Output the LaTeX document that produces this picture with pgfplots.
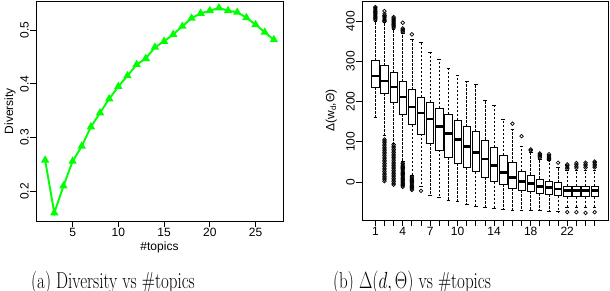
\documentclass[border=0pt]{standalone}
\usepackage{pgfplots}
\pgfplotsset{compat=1.18}
\usepgfplotslibrary{statistics}
\usepackage{fontspec}
\newfontfamily\arial{Liberation Sans}
\definecolor{rgreen}{RGB}{0,255,0}
\pgfplotsset{
  rstyle/.style={
    scale only axis,
    axis line style={line width=0.9pt},
    tick align=outside,
    major tick length=6pt,
    every tick/.style={black, line width=0.9pt},
    tick pos=left,
    tick label style={font=\arial\fontsize{12}{12}\selectfont},
    label style={font=\arial\fontsize{12}{12}\selectfont},
    yticklabel style={rotate=90, anchor=south, inner sep=1pt},
    xticklabel style={anchor=north, inner sep=1pt},
    /pgf/number format/assume math mode=true,
  }
}
\begin{document}
\begin{tikzpicture}
\useasboundingbox (0,0) rectangle (610pt,-290pt);
% ---------------- (a) ----------------
\begin{axis}[rstyle, at={(36pt,-221pt)}, anchor=south west, width=247pt, height=220pt,
  xmin=1, xmax=28, ymin=0.145, ymax=0.554,
  xtick={5,10,15,20,25}, ytick={0.2,0.3,0.4,0.5}, yticklabels={0.2,0.3,0.4,0.5},
  xlabel={\#topics}, ylabel={Diversity},
  xlabel style={at={(axis description cs:0.5,-0.122)}, anchor=center},
  ylabel style={at={(axis description cs:-0.105,0.5)}, anchor=center},
]
\addplot[color=rgreen, line width=1.9pt, mark=triangle*, mark size=3pt, mark options={solid}] coordinates {
(2,0.258) (3,0.160) (4,0.210) (5,0.256) (6,0.284) (7,0.320) (8,0.346) (9,0.372)
(10,0.395) (11,0.415) (12,0.436) (13,0.447) (14,0.468) (15,0.479) (16,0.492)
(17,0.507) (18,0.522) (19,0.531) (20,0.536) (21,0.541) (22,0.536) (23,0.533)
(24,0.523) (25,0.510) (26,0.496) (27,0.482)
};
\end{axis}
% ---------------- (b) ----------------
\begin{axis}[rstyle, at={(362pt,-220pt)}, anchor=south west, width=246pt, height=219pt,
  xmin=-0.46, xmax=26.46, ymin=-94.5, ymax=450,
  xtick={1,...,25}, xticklabels={1,,,4,,,7,,,10,,,,14,,,,18,,,,22,,,},
  ytick={0,100,200,300,400}, yticklabels={0,100,200,300,400},
  ylabel={Δ(w\textsubscript{d},Θ)},
  ylabel style={at={(axis description cs:-0.125,0.5)}, anchor=center},
  boxplot/draw direction=y,
  boxplot/box extend=0.8,
  boxplot/whisker extend=0.4,
  boxplot/every box/.style={draw=black, fill=white, line width=0.8pt},
  boxplot/every median/.style={draw=black, line width=2.4pt},
  boxplot/draw/lower whisker/.code={%
    \draw[black, line width=0.8pt, dash pattern=on 2.5pt off 1.5pt] (boxplot cs:\pgfplotsboxplotvalue{lower quartile}) -- (boxplot cs:\pgfplotsboxplotvalue{lower whisker});
    \draw[black, line width=0.8pt, solid] (boxplot whisker cs:\pgfplotsboxplotvalue{lower whisker},0) -- (boxplot whisker cs:\pgfplotsboxplotvalue{lower whisker},1);
  },
  boxplot/draw/upper whisker/.code={%
    \draw[black, line width=0.8pt, dash pattern=on 2.5pt off 1.5pt] (boxplot cs:\pgfplotsboxplotvalue{upper quartile}) -- (boxplot cs:\pgfplotsboxplotvalue{upper whisker});
    \draw[black, line width=0.8pt, solid] (boxplot whisker cs:\pgfplotsboxplotvalue{upper whisker},0) -- (boxplot whisker cs:\pgfplotsboxplotvalue{upper whisker},1);
  },
  every axis plot/.append style={black, mark=o, mark size=1.8pt, mark options={solid, black, line width=0.7pt}},
]
\addplot[boxplot prepared={draw position=1, lower whisker=161, lower quartile=235.6, median=263.7, upper quartile=301.7, upper whisker=400}]
 coordinates {(0,403)(0,406)(0,409)(0,412)(0,415)(0,418)(0,421)(0,424)(0,427)(0,430)(0,433)(0,435)};
\addplot[boxplot prepared={draw position=2, lower whisker=116, lower quartile=220.6, median=251, upper quartile=289.3, upper whisker=396}]
 coordinates {(0,399)(0,402)(0,405)(0,408)(0,411)(0,414)(0,418)(0,425)
 (0,2)(0,6)(0,10)(0,14)(0,18)(0,22)(0,26)(0,30)(0,34)(0,38)(0,42)(0,46)(0,50)(0,54)(0,58)(0,62)(0,66)(0,70)(0,74)(0,78)(0,82)(0,86)(0,90)(0,94)(0,98)(0,102)(0,106)};
\addplot[boxplot prepared={draw position=3, lower whisker=96, lower quartile=198, median=235.6, upper quartile=272, upper whisker=380}]
 coordinates {(0,383)(0,386)(0,389)(0,392)(0,395)(0,398)(0,401)(0,404)(0,407)(0,410)
 (0,-7)(0,-3)(0,1)(0,5)(0,9)(0,13)(0,17)(0,21)(0,25)(0,29)(0,33)(0,37)(0,41)(0,45)(0,49)(0,53)(0,57)(0,61)(0,65)(0,69)(0,73)(0,77)(0,81)(0,85)(0,89)(0,93)};
\addplot[boxplot prepared={draw position=4, lower whisker=50, lower quartile=169, median=212, upper quartile=249, upper whisker=370}]
 coordinates {(0,373)(0,376)(0,379)(0,382)(0,396)
 (0,-12)(0,-9)(0,-6)(0,-3)(0,0)(0,3)(0,6)(0,9)(0,12)(0,15)(0,18)(0,21)(0,24)(0,27)(0,30)(0,33)(0,36)(0,39)(0,42)(0,45)(0,47)};
\addplot[boxplot prepared={draw position=5, lower whisker=17, lower quartile=142, median=187, upper quartile=229, upper whisker=355}]
 coordinates {(0,367)(0,-20)(0,-17)(0,-14)(0,-11)(0,-8)(0,-5)(0,-2)(0,1)(0,4)(0,7)(0,10)(0,13)};
\addplot[boxplot prepared={draw position=6, lower whisker=-10, lower quartile=119.4, median=171, upper quartile=210.7, upper whisker=346.5}]
 coordinates {(0,-22)};
\addplot[boxplot prepared={draw position=7, lower whisker=-33, lower quartile=96, median=156, upper quartile=198, upper whisker=322.6}] coordinates {};
\addplot[boxplot prepared={draw position=8, lower whisker=-38, lower quartile=79.6, median=137.6, upper quartile=183, upper whisker=305}] coordinates {};
\addplot[boxplot prepared={draw position=9, lower whisker=-45, lower quartile=61.4, median=121, upper quartile=169, upper whisker=283}] coordinates {};
\addplot[boxplot prepared={draw position=10, lower whisker=-47, lower quartile=46.5, median=106, upper quartile=154, upper whisker=266}] coordinates {};
\addplot[boxplot prepared={draw position=11, lower whisker=-55.5, lower quartile=36.5, median=88, upper quartile=137.6, upper whisker=251}] coordinates {};
\addplot[boxplot prepared={draw position=12, lower whisker=-60, lower quartile=25.6, median=73, upper quartile=125, upper whisker=242}] coordinates {};
\addplot[boxplot prepared={draw position=13, lower whisker=-63, lower quartile=11.6, median=57, upper quartile=104.5, upper whisker=203}] coordinates {};
\addplot[boxplot prepared={draw position=14, lower whisker=-65.5, lower quartile=0.8, median=40.6, upper quartile=86, upper whisker=191}] coordinates {};
\addplot[boxplot prepared={draw position=15, lower whisker=-68, lower quartile=-5, median=24, upper quartile=67, upper whisker=156}] coordinates {};
\addplot[boxplot prepared={draw position=16, lower whisker=-70, lower quartile=-15.7, median=11.6, upper quartile=48, upper whisker=130}] coordinates {(0,145)};
\addplot[boxplot prepared={draw position=17, lower whisker=-70, lower quartile=-21, median=1.7, upper quartile=27, upper whisker=89.5}] coordinates {(0,114)};
\addplot[boxplot prepared={draw position=18, lower whisker=-71, lower quartile=-22.4, median=-3.3, upper quartile=17.4, upper whisker=73}] coordinates {(0,78)(0,81)};
\addplot[boxplot prepared={draw position=19, lower whisker=-71, lower quartile=-28, median=-11.6, upper quartile=7.5, upper whisker=56.5}] coordinates {(0,60)(0,63)(0,66)(0,69)(0,71)};
\addplot[boxplot prepared={draw position=20, lower whisker=-72, lower quartile=-30, median=-14, upper quartile=1.7, upper whisker=53}] coordinates {(0,56)(0,59)(0,62)(0,65)(0,69)};
\addplot[boxplot prepared={draw position=21, lower whisker=-74, lower quartile=-34, median=-17.4, upper quartile=-1.7, upper whisker=35.6}] coordinates {(0,48)};
\addplot[boxplot prepared={draw position=22, lower whisker=-62, lower quartile=-36.6, median=-21.6, upper quartile=-10, upper whisker=28}] coordinates {(0,33)(0,37)(0,41)(0,44)(0,-75)};
\addplot[boxplot prepared={draw position=23, lower whisker=-62, lower quartile=-36.6, median=-21.6, upper quartile=-10, upper whisker=28}] coordinates {(0,35)(0,39)(0,43)(0,47)(0,-75)};
\addplot[boxplot prepared={draw position=24, lower whisker=-62, lower quartile=-36.6, median=-21.6, upper quartile=-10, upper whisker=28}] coordinates {(0,36)(0,40)(0,44)(0,48)(0,-77)};
\addplot[boxplot prepared={draw position=25, lower whisker=-62, lower quartile=-36.6, median=-21.6, upper quartile=-10, upper whisker=28}] coordinates {(0,36)(0,40)(0,44)(0,48)(0,51)(0,-75)};
\end{axis}
% captions (cut off at the bottom edge, as in the reference)
\node[anchor=north west, inner sep=0pt, font=\fontsize{17}{17}\selectfont, yscale=1.35] at (31pt,-271pt) {(a) Diversity vs \#topics};
\node[anchor=north west, inner sep=0pt, font=\fontsize{17}{17}\selectfont, yscale=1.35] at (333pt,-271pt) {(b) $\Delta(d,\Theta)$ vs \#topics};
\end{tikzpicture}
\end{document}
